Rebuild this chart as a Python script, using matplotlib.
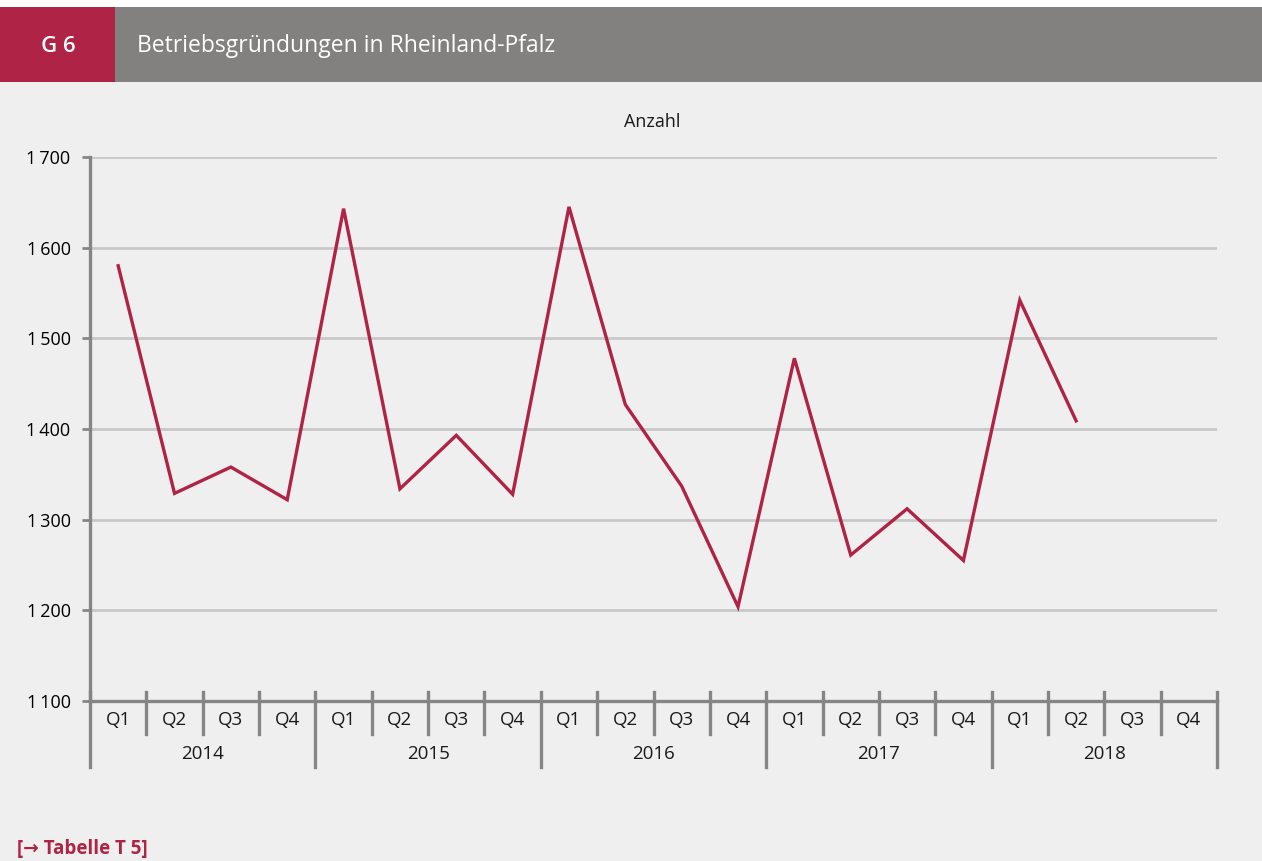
import matplotlib
matplotlib.use("Agg")
import matplotlib.pyplot as plt
from matplotlib.patches import Rectangle
from matplotlib.lines import Line2D
import matplotlib.transforms as mtransforms

years = ["2014", "2015", "2016", "2017", "2018"]
quarters = ["Q1", "Q2", "Q3", "Q4"]
values = [1580, 1329, 1358, 1322,
          1643, 1334, 1393, 1328,
          1645, 1427, 1337, 1204,
          1478, 1261, 1312, 1255,
          1542, 1409]
yticks = [1100, 1200, 1300, 1400, 1500, 1600, 1700]
ytick_labels = ["1\u2009100", "1\u2009200", "1\u2009300", "1\u2009400", "1\u2009500", "1\u2009600", "1\u2009700"]

BG = "#efefef"
RED = "#ae2346"
HEADER = "#82817f"
AXIS = "#858585"
GRID = "#c8c8c8"
FONT = ["Open Sans", "DejaVu Sans"]

plt.rcParams["font.family"] = FONT

W, H = 1262, 861
fig = plt.figure(figsize=(W / 100, H / 100), dpi=100, facecolor=BG)

# header
fig.patches.append(Rectangle((0, 1 - 7 / H), 1, 7 / H, transform=fig.transFigure,
                             facecolor="white", edgecolor="none", zorder=0))
fig.patches.append(Rectangle((0, 1 - 82 / H), 1, 75 / H, transform=fig.transFigure,
                             facecolor=HEADER, edgecolor="none", zorder=1))
fig.patches.append(Rectangle((0, 1 - 82 / H), 115 / W, 75 / H, transform=fig.transFigure,
                             facecolor=RED, edgecolor="none", zorder=2))
fig.text(58 / W, 1 - 46 / H, "G 6", color="white", fontsize=16, ha="center", va="center",
         fontweight="semibold", zorder=3)
fig.text(137 / W, 1 - 46 / H, "Betriebsgründungen in Rheinland-Pfalz", color="white",
         fontsize=16.5, ha="left", va="center", zorder=3)

left, right, top, bottom = 90, 1217, 157, 701
ax = fig.add_axes([left / W, 1 - bottom / H, (right - left) / W, (bottom - top) / H])
ax.set_facecolor(BG)

n = len(years) * len(quarters)
x = list(range(len(values)))
ax.plot(x, values, color=RED, linewidth=2.4, solid_joinstyle="miter", zorder=3)

ax.set_xlim(-0.5, n - 0.5)
ax.set_ylim(1100, 1700)
ax.set_yticks(yticks)
ax.set_yticklabels(ytick_labels, fontsize=13)
ax.tick_params(axis="y", length=6, width=2, color=AXIS, pad=8)
ax.set_xticks([])
for yv in yticks[1:]:
    ax.axhline(yv, color=GRID, linewidth=2, zorder=1)

for s in ["top", "right"]:
    ax.spines[s].set_visible(False)
ax.spines["left"].set_color(AXIS)
ax.spines["left"].set_linewidth(2.4)
ax.spines["bottom"].set_color(AXIS)
ax.spines["bottom"].set_linewidth(2.4)

trans = mtransforms.blended_transform_factory(ax.transData, ax.transAxes)
ph = bottom - top
y_up = 9 / ph
y_q = -33 / ph
y_year = -66 / ph
for i in range(n + 1):
    xb = i - 0.5
    if i % 4 == 0:
        y0 = y_year
    else:
        y0 = y_q
    ax.add_line(Line2D([xb, xb], [y0, y_up], transform=trans, color=AXIS,
                       linewidth=2.4, clip_on=False, zorder=4))

for yi, yr in enumerate(years):
    for qi, q in enumerate(quarters):
        idx = yi * 4 + qi
        ax.text(idx, -19 / ph, q, transform=trans, ha="center", va="center",
                fontsize=13.5, color="#1a1a1a")
    ax.text(yi * 4 + 1.5, -53 / ph, yr, transform=trans, ha="center", va="center",
            fontsize=13.5, color="#1a1a1a")

fig.text(652 / W, 1 - 122 / H, "Anzahl", ha="center", va="center", fontsize=13,
         color="#1a1a1a")

fig.text(17 / W, 1 - 849 / H, "[\u2192 Tabelle T 5]", ha="left", va="center", fontsize=13.5,
         color=RED, fontweight="bold", family=FONT)

fig.savefig("out.png", dpi=100, facecolor=BG)
